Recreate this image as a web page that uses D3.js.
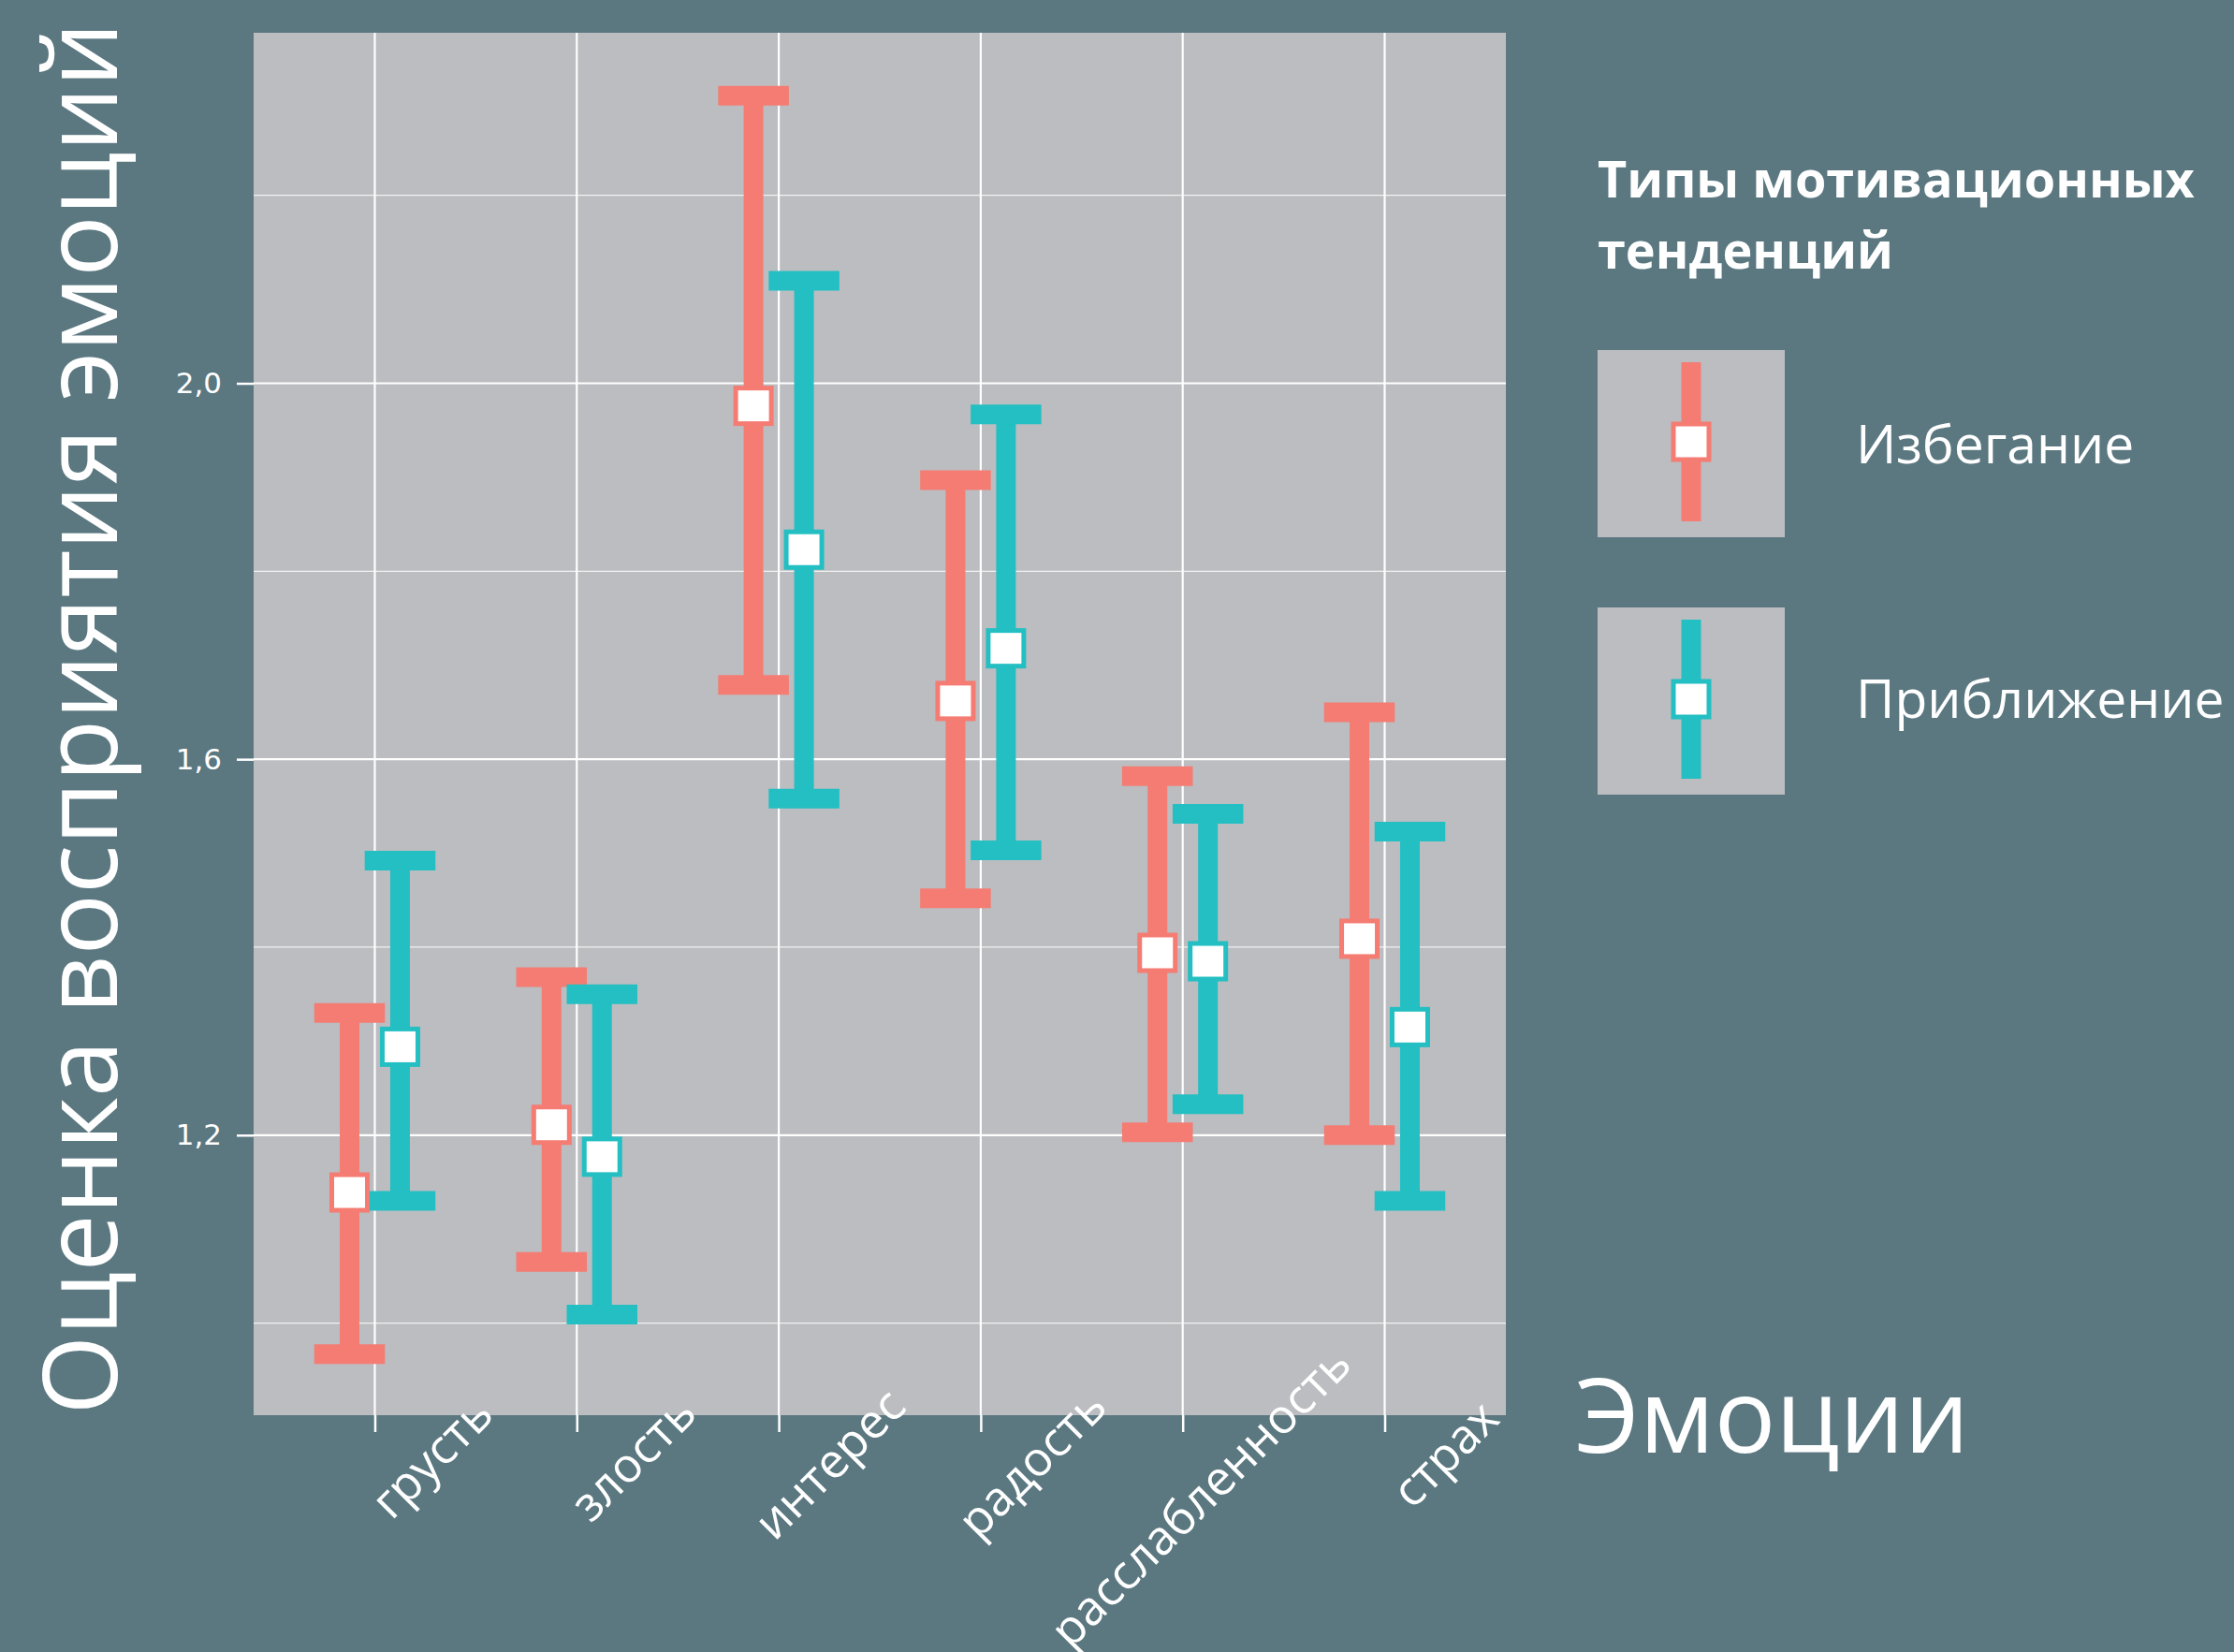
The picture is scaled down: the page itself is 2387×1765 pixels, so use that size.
<!DOCTYPE html>
<html>
<head>
<meta charset="utf-8">
<script src="https://cdn.jsdelivr.net/npm/d3@7"></script>
<style>
  body { margin: 0; background: #5b7881; }
  text { font-family: "Open Sans", "Noto Sans", sans-serif; fill: #fff; }
</style>
</head>
<body>
<svg id="chart" width="2387" height="1765"></svg>
<script>
// data
var categories = ["грусть", "злость", "интерес", "радость", "расслабленность", "страх"];
var groups = ["Избегание", "Приближение"];
var avoidMean = [1.139, 1.211, 1.976, 1.662, 1.394, 1.409];
var avoidLow  = [0.967, 1.065, 1.679, 1.452, 1.203, 1.200];
var avoidHigh = [1.330, 1.368, 2.306, 1.897, 1.582, 1.650];
var approachMean = [1.294, 1.177, 1.823, 1.718, 1.385, 1.315];
var approachLow  = [1.130, 1.009, 1.558, 1.503, 1.233, 1.130];
var approachHigh = [1.492, 1.350, 2.109, 1.967, 1.542, 1.523];
var yMajor = [1.2, 1.6, 2.0];
var yMinor = [1.0, 1.4, 1.8, 2.2];

var colors = { "Избегание": "#f47c73", "Приближение": "#23bfc2" };

var svg = d3.select("#chart");
var W = 2387, H = 1765;
var panel = { left: 271, right: 1609, top: 35, bottom: 1512 };

svg.append("rect").attr("width", W).attr("height", H).attr("fill", "#5b7881");

var x = d3.scalePoint()
    .domain(categories)
    .range([panel.left, panel.right])
    .padding(0.6);
var y = d3.scaleLinear()
    .domain([0.902, 2.373])
    .range([panel.bottom, panel.top]);

var step = x.step();
var dodge = 0.125 * step;
var capW = 0.35 * step;

// rows for the marks
var rows = [];
categories.forEach(function (c, i) {
    rows.push({ cat: c, group: groups[0], off: -dodge, mean: avoidMean[i], lo: avoidLow[i], hi: avoidHigh[i] });
    rows.push({ cat: c, group: groups[1], off: dodge, mean: approachMean[i], lo: approachLow[i], hi: approachHigh[i] });
});

// panel + grid
svg.append("rect")
    .attr("x", panel.left).attr("y", panel.top)
    .attr("width", panel.right - panel.left).attr("height", panel.bottom - panel.top)
    .attr("fill", "#bcbdc1");

var grid = svg.append("g");
grid.selectAll("line.minor").data(yMinor).enter().append("line")
    .attr("class", "minor")
    .attr("x1", panel.left).attr("x2", panel.right)
    .attr("y1", function (d) { return y(d); }).attr("y2", function (d) { return y(d); })
    .attr("stroke", "#f2f2f2").attr("stroke-width", 1.2);
grid.selectAll("line.major").data(yMajor).enter().append("line")
    .attr("class", "major")
    .attr("x1", panel.left).attr("x2", panel.right)
    .attr("y1", function (d) { return y(d); }).attr("y2", function (d) { return y(d); })
    .attr("stroke", "#ffffff").attr("stroke-width", 2.2);
grid.selectAll("line.vmajor").data(categories).enter().append("line")
    .attr("class", "vmajor")
    .attr("y1", panel.top).attr("y2", panel.bottom)
    .attr("x1", function (d) { return x(d); }).attr("x2", function (d) { return x(d); })
    .attr("stroke", "#ffffff").attr("stroke-width", 2.2);

// error bars
var bars = svg.append("g");
var eb = bars.selectAll("g").data(rows).enter().append("g")
    .attr("stroke", function (d) { return colors[d.group]; })
    .attr("stroke-width", 21);
eb.append("line")
    .attr("x1", function (d) { return x(d.cat) + d.off; })
    .attr("x2", function (d) { return x(d.cat) + d.off; })
    .attr("y1", function (d) { return y(d.lo); })
    .attr("y2", function (d) { return y(d.hi); });
eb.append("line")
    .attr("x1", function (d) { return x(d.cat) + d.off - capW / 2; })
    .attr("x2", function (d) { return x(d.cat) + d.off + capW / 2; })
    .attr("y1", function (d) { return y(d.hi); })
    .attr("y2", function (d) { return y(d.hi); });
eb.append("line")
    .attr("x1", function (d) { return x(d.cat) + d.off - capW / 2; })
    .attr("x2", function (d) { return x(d.cat) + d.off + capW / 2; })
    .attr("y1", function (d) { return y(d.lo); })
    .attr("y2", function (d) { return y(d.lo); });

// points
var ps = 38;
svg.append("g").selectAll("rect").data(rows).enter().append("rect")
    .attr("x", function (d) { return x(d.cat) + d.off - ps / 2; })
    .attr("y", function (d) { return y(d.mean) - ps / 2; })
    .attr("width", ps).attr("height", ps)
    .attr("fill", "#ffffff")
    .attr("stroke", function (d) { return colors[d.group]; })
    .attr("stroke-width", 5);

// y axis
var yAxis = svg.append("g")
    .attr("transform", "translate(" + panel.left + ",0)")
    .call(d3.axisLeft(y).tickValues(yMajor).tickSize(18).tickPadding(16)
        .tickFormat(function (d) { return d3.format(".1f")(d).replace(".", ","); }));
yAxis.select(".domain").remove();
yAxis.selectAll(".tick line").attr("stroke", "#fff").attr("stroke-width", 2.5);
yAxis.selectAll(".tick text").attr("fill", "#fff").style("font-size", "31px")
    .style("font-family", "'DejaVu Sans', sans-serif");

// x axis ticks
var xAxis = svg.append("g")
    .attr("transform", "translate(0," + panel.bottom + ")")
    .call(d3.axisBottom(x).tickSize(18).tickFormat(""));
xAxis.select(".domain").remove();
xAxis.selectAll(".tick line").attr("stroke", "#fff").attr("stroke-width", 2.5);

// x tick labels, rotated 45°
var xl = svg.append("g").selectAll("text").data(categories).enter().append("text")
    .attr("transform", function (d) { return "translate(" + (x(d) + 84) + ",1531) rotate(-45)"; })
    .attr("dominant-baseline", "central")
    .style("font-size", "51px")
    .text(function (d) { return d; });
xl.attr("x", function () { return -0.72 * this.getComputedTextLength(); });

// axis titles
svg.append("text")
    .attr("transform", "translate(125," + ((panel.top + panel.bottom) / 2 - 6) + ") rotate(-90)")
    .attr("text-anchor", "middle")
    .style("font-size", "109px")
    .text("Оценка восприятия эмоций");

svg.append("text")
    .attr("x", 1683).attr("y", 1552)
    .style("font-size", "109px")
    .text("Эмоции");

// legend
var leg = svg.append("g");
leg.append("text").attr("x", 1707).attr("y", 211)
    .style("font-size", "54px").style("font-weight", "bold")
    .text("Типы мотивационных");
leg.append("text").attr("x", 1707).attr("y", 287)
    .style("font-size", "54px").style("font-weight", "bold")
    .text("тенденций");

var keyTop = [374, 649];
var key = leg.selectAll("g.key").data(groups).enter().append("g")
    .attr("class", "key")
    .attr("transform", function (d, i) { return "translate(1707," + keyTop[i] + ")"; });
key.append("rect").attr("width", 200).attr("height", 200).attr("fill", "#bcbdc1");
key.append("line")
    .attr("x1", 100).attr("x2", 100).attr("y1", 13).attr("y2", 183)
    .attr("stroke", function (d) { return colors[d]; }).attr("stroke-width", 21);
key.append("rect")
    .attr("x", 100 - ps / 2).attr("y", 98 - ps / 2).attr("width", ps).attr("height", ps)
    .attr("fill", "#fff")
    .attr("stroke", function (d) { return colors[d]; }).attr("stroke-width", 5);
key.append("text")
    .attr("x", 1983 - 1707).attr("y", function (d, i) { return i === 0 ? 121 : 118; })
    .style("font-size", "57px")
    .text(function (d) { return d; });
</script>
</body>
</html>
